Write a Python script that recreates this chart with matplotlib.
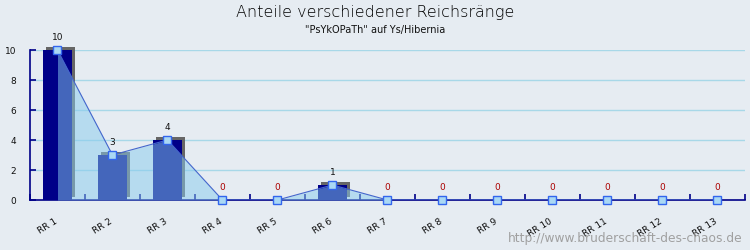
import matplotlib
matplotlib.use("Agg")
from matplotlib import pyplot as plt
import matplotlib.patheffects as pe
import numpy as np

# data
categories = ["RR 1", "RR 2", "RR 3", "RR 4", "RR 5", "RR 6", "RR 7",
              "RR 8", "RR 9", "RR 10", "RR 11", "RR 12", "RR 13"]
values = [10, 3, 4, 0, 0, 1, 0, 0, 0, 0, 0, 0, 0]
y_ticks = [0, 2, 4, 6, 8, 10]

bg = "#e6ecf2"
navy = "#000088"

fig = plt.figure(figsize=(7.5, 2.5), dpi=100, facecolor=bg)
ax = fig.add_axes([0.04, 0.2, 0.9533, 0.6])
ax.set_facecolor(bg)

x = np.arange(len(categories))

# grid
for t in y_ticks[1:]:
    ax.axhline(t, color="#a8d8e8", lw=1, zorder=0)

# bars with shadow
bars = ax.bar(x, values, width=0.54, color=navy, zorder=2, linewidth=0, clip_on=False)
for b in bars:
    b.set_path_effects([pe.SimplePatchShadow(offset=(2.2, 2.2), shadow_rgbFace="#666666", alpha=1.0),
                        pe.Normal()])

# area + line
ax.fill_between(x, values, 0, color="#88ccee", alpha=0.5, zorder=3, linewidth=0)
ax.plot(x, values, color="#4466cc", lw=0.8, zorder=4)
ax.plot(x, values, ls="none", marker="s", ms=5.5, mfc="#aad8f4", mec="#3366ee", mew=1,
        zorder=5, clip_on=False)

# value labels
for xi, v in zip(x, values):
    ax.text(xi, v + 0.55, str(v), ha="center", va="bottom", fontsize=6.5,
            color="#aa0000" if v == 0 else "#111111", zorder=6)

ax.set_xlim(-0.5, 12.5)
ax.set_ylim(0, 10)

for s in ["top", "right"]:
    ax.spines[s].set_visible(False)
ax.spines["left"].set_color(navy)
ax.spines["bottom"].set_color(navy)
ax.spines["left"].set_linewidth(1.2)
ax.spines["bottom"].set_linewidth(1.2)

ax.set_yticks(y_ticks)
ax.set_yticklabels([str(t) for t in y_ticks], fontsize=6.5, color="#111111")
ax.tick_params(axis="y", direction="in", length=4, color=navy, width=1.2, pad=10)

ax.set_xticks(np.arange(-0.5, 13, 1))
ax.set_xticklabels([])
ax.set_xticks(x - 0.06, minor=True)
ax.set_xticklabels(categories, minor=True, rotation=32, ha="right", fontsize=6.5,
                   color="#111111", rotation_mode="anchor")
ax.tick_params(axis="x", which="major", direction="in", length=4, color=navy, width=1.2)
ax.tick_params(axis="x", which="minor", length=0, pad=12)

fig.text(0.5, 0.952, "Anteile verschiedener Reichsränge", ha="center", va="center",
         fontsize=11.5, color="#000000", fontweight="light")
fig.text(0.5, 0.88, "\"PsYkOPaTh\" auf Ys/Hibernia", ha="center", va="center",
         fontsize=7, color="#111111")
fig.text(0.99, 0.045, "http://www.bruderschaft-des-chaos.de", ha="right", va="center",
         fontsize=8.8, color="#a0a0a0")

fig.savefig("out.png", dpi=100, facecolor=bg)
